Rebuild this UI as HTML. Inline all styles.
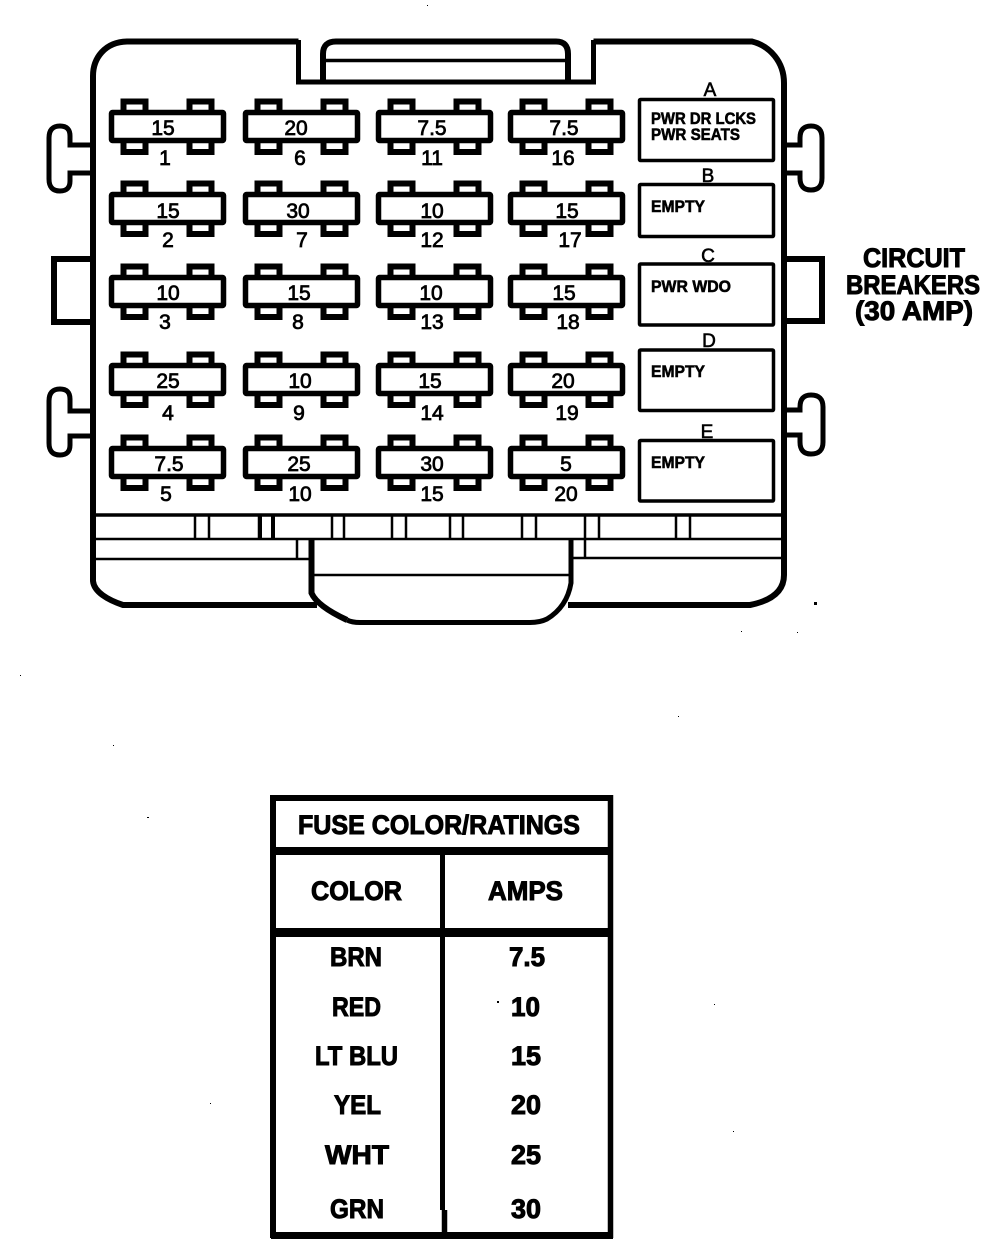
<!DOCTYPE html>
<html><head><meta charset="utf-8"><style>
html,body{margin:0;padding:0;background:#fff;width:1008px;height:1250px;overflow:hidden}
svg{display:block}
text{font-family:"Liberation Sans",sans-serif;fill:#000}
.v{font-size:21px;text-anchor:middle;stroke:#000;stroke-width:.75}
.c{font-size:19px;text-anchor:middle;stroke:#000;stroke-width:.6}
.b{font-size:17px;font-weight:bold;stroke:#000;stroke-width:.6}
.t{font-size:27px;font-weight:bold;stroke:#000;stroke-width:1}
.l{fill:none;stroke:#000}
</style></head><body>
<svg width="1008" height="1250" viewBox="0 0 1008 1250" xmlns="http://www.w3.org/2000/svg">
<defs>
<g id="f">
<rect x="14.5" y="-8.5" width="22" height="12" fill="#fff" stroke="#000" stroke-width="6"/>
<rect x="80.5" y="-8.5" width="22" height="12" fill="#fff" stroke="#000" stroke-width="6"/>
<rect x="14.5" y="30" width="22" height="12" fill="#fff" stroke="#000" stroke-width="6"/>
<rect x="80.5" y="30" width="22" height="12" fill="#fff" stroke="#000" stroke-width="6"/>
<rect x="2.5" y="2.5" width="112" height="28" rx="1" fill="#fff" stroke="#000" stroke-width="5.5"/>
</g>
</defs>

<!-- housing -->
<path class="l" stroke-width="6" d="M298.5 41.5 H127 C105 42 93 58 93 76 V581 C94 592 108 600 123 605 H317"/>
<path class="l" stroke-width="6" d="M593.5 41.5 H752 C770 46 784 62 784 83 V575 C784 592 770 601 750 605 H568"/>
<path class="l" stroke-width="5" d="M298.5 40 V82 H593.5 V40"/>
<path class="l" stroke-width="6" d="M323 82 V54 Q323 41.5 336 41.5 H556 Q568 41.5 568 54 V82"/>
<path class="l" stroke-width="3.5" d="M323 60.5 H568"/>

<!-- side lugs -->
<path class="l" stroke-width="5" d="M93 145 H70 V136 Q70 126 60 126 Q49 126 49 138 V179 Q49 191 60 191 Q70 191 70 181 V173 H93"/>
<path class="l" stroke-width="5" d="M93 411 H70 V399 Q70 389 60 389 Q49 389 49 401 V443 Q49 455 60 455 Q70 455 70 445 V436 H93"/>
<path class="l" stroke-width="6" d="M93 259 H54 V322 H93"/>
<path class="l" stroke-width="5" d="M784 145 H800 V138 Q800 126 811 126 Q822 126 822 138 V178 Q822 190 811 190 Q800 190 800 178 V173 H784"/>
<path class="l" stroke-width="5" d="M784 410 H800 V407 Q800 395 811 395 Q823 395 823 407 V442 Q823 454 811 454 Q800 454 800 442 V435 H784"/>
<path class="l" stroke-width="6" d="M784 259 H822 V321 H784"/>

<!-- fuses -->
<use href="#f" x="109" y="110"/><use href="#f" x="243" y="110"/><use href="#f" x="376" y="110"/><use href="#f" x="508" y="110"/>
<use href="#f" x="109" y="192"/><use href="#f" x="243" y="192"/><use href="#f" x="376" y="192"/><use href="#f" x="508" y="192"/>
<use href="#f" x="109" y="275"/><use href="#f" x="243" y="275"/><use href="#f" x="376" y="275"/><use href="#f" x="508" y="275"/>
<use href="#f" x="109" y="363"/><use href="#f" x="243" y="363"/><use href="#f" x="376" y="363"/><use href="#f" x="508" y="363"/>
<use href="#f" x="109" y="446"/><use href="#f" x="243" y="446"/><use href="#f" x="376" y="446"/><use href="#f" x="508" y="446"/>

<!-- values -->
<g class="v">
<text class="v" x="163" y="135">15</text><text class="v" x="296" y="135">20</text><text class="v" x="432" y="135">7.5</text><text class="v" x="564" y="135">7.5</text>
<text class="v" x="168" y="218">15</text><text class="v" x="298" y="218">30</text><text class="v" x="432" y="218">10</text><text class="v" x="567" y="218">15</text>
<text class="v" x="168" y="300">10</text><text class="v" x="299" y="300">15</text><text class="v" x="431" y="300">10</text><text class="v" x="564" y="300">15</text>
<text class="v" x="168" y="388">25</text><text class="v" x="300" y="388">10</text><text class="v" x="430" y="388">15</text><text class="v" x="563" y="388">20</text>
<text class="v" x="169" y="471">7.5</text><text class="v" x="299" y="471">25</text><text class="v" x="432" y="471">30</text><text class="v" x="566" y="471">5</text>
<text class="v" x="165" y="165">1</text><text class="v" x="300" y="165">6</text><text class="v" x="432" y="165">11</text><text class="v" x="563" y="165">16</text>
<text class="v" x="168" y="247">2</text><text class="v" x="302" y="247">7</text><text class="v" x="432" y="247">12</text><text class="v" x="570" y="247">17</text>
<text class="v" x="165" y="329">3</text><text class="v" x="298" y="329">8</text><text class="v" x="432" y="329">13</text><text class="v" x="568" y="329">18</text>
<text class="v" x="168" y="420">4</text><text class="v" x="299" y="420">9</text><text class="v" x="432" y="420">14</text><text class="v" x="567" y="420">19</text>
<text class="v" x="166" y="501">5</text><text class="v" x="300" y="501">10</text><text class="v" x="432" y="501">15</text><text class="v" x="566" y="501">20</text>
</g>

<!-- breakers -->
<g class="l" stroke-width="3.5">
<rect x="639.5" y="99.5" width="134" height="61" rx="1"/>
<rect x="639.5" y="184.5" width="134" height="52" rx="1"/>
<rect x="639.5" y="264" width="134" height="61" rx="1"/>
<rect x="639.5" y="350" width="134" height="60.5" rx="1"/>
<rect x="639.5" y="440.5" width="134" height="60.5" rx="1"/>
</g>
<text class="c" x="710" y="96">A</text>
<text class="c" x="708" y="182">B</text>
<text class="c" x="708" y="262">C</text>
<text class="c" x="709" y="347">D</text>
<text class="c" x="707" y="438">E</text>
<text class="b" x="651" y="124" textLength="105" lengthAdjust="spacingAndGlyphs">PWR DR LCKS</text>
<text class="b" x="651" y="140" textLength="89" lengthAdjust="spacingAndGlyphs">PWR SEATS</text>
<text class="b" x="651" y="212" textLength="54" lengthAdjust="spacingAndGlyphs">EMPTY</text>
<text class="b" x="651" y="292" textLength="80" lengthAdjust="spacingAndGlyphs">PWR WDO</text>
<text class="b" x="651" y="377" textLength="54" lengthAdjust="spacingAndGlyphs">EMPTY</text>
<text class="b" x="651" y="468" textLength="54" lengthAdjust="spacingAndGlyphs">EMPTY</text>

<!-- circuit breakers label -->
<text class="t" x="863" y="267" textLength="102" lengthAdjust="spacingAndGlyphs">CIRCUIT</text>
<text class="t" x="846" y="294" textLength="134" lengthAdjust="spacingAndGlyphs">BREAKERS</text>
<text class="t" x="855" y="320" textLength="118" lengthAdjust="spacingAndGlyphs">(30 AMP)</text>

<!-- bottom strips -->
<path class="l" stroke-width="3.5" d="M93 515 H784"/>
<path class="l" stroke-width="2.5" d="M93 539 H784 M93 559 H310 M572 558 H784"/>
<path class="l" stroke-width="2.5" d="M195 515 V539 M209 515 V539 M259 515 V539 M332 515 V539 M344 515 V539 M392 515 V539 M406 515 V539 M450 515 V539 M463 515 V539 M522 515 V539 M536 515 V539 M585 515 V539 M599 515 V539 M676 515 V539 M690 515 V539 M297 539 V559 M585 539 V558"/>
<path class="l" stroke-width="4" d="M260 515 V539 M273 515 V539"/>
<path class="l" stroke-width="6" d="M311.5 539 V593 Q317 606 347 620"/>
<path class="l" stroke-width="5" d="M347 620 Q352 622.5 360 622.5 H530 Q540 622.5 547 619 Q567 607 571 583 V539"/>
<path class="l" stroke-width="2.5" d="M311 575 H571"/>

<!-- table -->
<path class="l" stroke-width="6" d="M273 798 H610"/>
<path class="l" stroke-width="6" d="M273 795 V1238"/>
<path class="l" stroke-width="5.5" d="M610.5 795 V1238"/>
<path class="l" stroke-width="8" d="M273 851 H610"/>
<path class="l" stroke-width="9" d="M273 932.5 H610"/>
<path class="l" stroke-width="7" d="M271 1235.5 H613"/>
<path class="l" stroke-width="5" d="M442.5 851 V1210"/>
<path class="l" stroke-width="5.5" d="M444.5 1210 V1235"/>

<text class="t" x="298" y="834" textLength="282" lengthAdjust="spacingAndGlyphs">FUSE COLOR/RATINGS</text>
<text class="t" x="311" y="900" textLength="91" lengthAdjust="spacingAndGlyphs">COLOR</text>
<text class="t" x="488" y="900" textLength="75" lengthAdjust="spacingAndGlyphs">AMPS</text>
<text class="t" x="330" y="966" textLength="52" lengthAdjust="spacingAndGlyphs">BRN</text>
<text class="t" x="509" y="966" textLength="36" lengthAdjust="spacingAndGlyphs">7.5</text>
<text class="t" x="332" y="1016" textLength="49" lengthAdjust="spacingAndGlyphs">RED</text>
<text class="t" x="511" y="1016" textLength="29" lengthAdjust="spacingAndGlyphs">10</text>
<text class="t" x="315" y="1065" textLength="83" lengthAdjust="spacingAndGlyphs">LT BLU</text>
<text class="t" x="511" y="1065" textLength="30" lengthAdjust="spacingAndGlyphs">15</text>
<text class="t" x="334" y="1114" textLength="47" lengthAdjust="spacingAndGlyphs">YEL</text>
<text class="t" x="511" y="1114" textLength="30" lengthAdjust="spacingAndGlyphs">20</text>
<text class="t" x="325" y="1164" textLength="64" lengthAdjust="spacingAndGlyphs">WHT</text>
<text class="t" x="511" y="1164" textLength="30" lengthAdjust="spacingAndGlyphs">25</text>
<text class="t" x="330" y="1218" textLength="54" lengthAdjust="spacingAndGlyphs">GRN</text>
<text class="t" x="511" y="1218" textLength="30" lengthAdjust="spacingAndGlyphs">30</text>

<!-- specks -->
<g fill="#000">
<rect x="814" y="602" width="3" height="3"/><rect x="741" y="631" width="1" height="1"/><rect x="797" y="632" width="1" height="1"/>
<rect x="427" y="5" width="1" height="1"/><rect x="20" y="675" width="1" height="1"/><rect x="113" y="745" width="1" height="1"/>
<rect x="147" y="817" width="2" height="1"/><rect x="678" y="716" width="1" height="1"/><rect x="497" y="1001" width="2" height="2"/>
<rect x="714" y="1004" width="1" height="1"/><rect x="733" y="1131" width="1" height="1"/><rect x="210" y="1103" width="1" height="1"/>
</g>
</svg>
</body></html>
